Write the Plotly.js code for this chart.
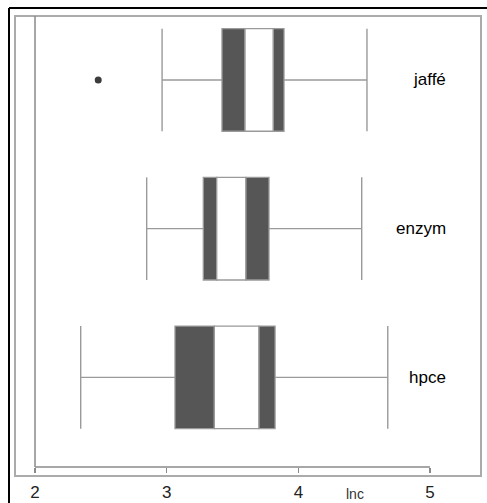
<!DOCTYPE html>
<html>
<head>
<meta charset="utf-8">
<script src="https://cdn.plot.ly/plotly-3.0.1.min.js"></script>
<style>html,body{margin:0;padding:0;background:#fff;}#chart{width:487px;height:503px;}</style>
</head>
<body>
<div id="chart"></div>
<script>
// Data
const categories = ['jaffé', 'enzym', 'hpce'];
const catPos = [3, 2, 1];
const lowerWhisker = [2.965, 2.848, 2.347];
const q1 = [3.42, 3.278, 3.063];
const ciLow = [3.595, 3.38, 3.362];
const ciHigh = [3.81, 3.602, 3.701];
const q3 = [3.891, 3.777, 3.823];
const upperWhisker = [4.521, 4.481, 4.679];
const outlierX = [2.48];
const outlierCat = ['jaffé'];
const tickVals = [2, 3, 4, 5];
const tickText = ['2', '3', '4', '5'];
const xTitle = 'lnc';

const BOXW = 0.69;
const darkFill = '#565656';
const edge = '#9a9a9a';
const posOf = c => catPos[categories.indexOf(c)];

const traces = [];
// whiskers
const wx = [], wy = [];
const cx = [], cy = [];
categories.forEach((c, i) => {
  const y = catPos[i];
  wx.push(lowerWhisker[i], q1[i], null, q3[i], upperWhisker[i], null);
  wy.push(y, y, null, y, y, null);
  cx.push(lowerWhisker[i], lowerWhisker[i], null, upperWhisker[i], upperWhisker[i], null);
  cy.push(y - BOXW / 2, y + BOXW / 2, null, y - BOXW / 2, y + BOXW / 2, null);
});
traces.push({type: 'scatter', mode: 'lines', x: wx, y: wy, line: {color: edge, width: 1.4}, hoverinfo: 'skip', showlegend: false});
traces.push({type: 'scatter', mode: 'lines', x: cx, y: cy, line: {color: edge, width: 1.4}, hoverinfo: 'skip', showlegend: false});

// box segments
const seg = (lo, hi, fill) => ({
  type: 'bar', orientation: 'h', y: catPos,
  base: lo, x: lo.map((v, i) => hi[i] - v), width: BOXW,
  marker: {color: fill, line: {color: edge, width: 1.3}},
  showlegend: false, hoverinfo: 'skip'
});
traces.push(seg(q1, ciLow, darkFill));
traces.push(seg(ciLow, ciHigh, '#ffffff'));
traces.push(seg(ciHigh, q3, darkFill));

// outliers
traces.push({type: 'scatter', mode: 'markers', x: outlierX, y: outlierCat.map(posOf),
  marker: {color: '#3c3c3c', size: 7}, showlegend: false, hoverinfo: 'skip'});

// plot geometry (pixels)
const W = 487, H = 503;
const mL = 15, mR = 6, mT = 16, mB = 36;
const pw = W - mL - mR, ph = H - mT - mB;
const px2paperX = p => (p - mL) / pw;
const px2paperY = p => (H - mB - p) / ph;

const annotations = categories.map((c, i) => ({
  x: 5.137, y: catPos[i], xref: 'x', yref: 'y', text: c, showarrow: false,
  xanchor: 'right', yanchor: 'middle',
  font: {family: 'Liberation Sans, Arial, sans-serif', size: 17, color: '#000'}
}));
annotations.push({x: px2paperX(355), y: px2paperY(503), xref: 'paper', yref: 'paper',
  text: xTitle, showarrow: false, xanchor: 'center', yanchor: 'bottom', borderpad: 0,
  font: {family: 'Liberation Sans, Arial, sans-serif', size: 14, color: '#333'}});

const shapes = [
  // inner grey frame
  {type: 'rect', xref: 'paper', yref: 'paper', x0: 0, x1: 1, y0: px2paperY(476), y1: 1,
   line: {color: '#ababab', width: 2}, layer: 'below'},
  // outer black frame (top and left)
  {type: 'line', xref: 'paper', yref: 'paper', x0: px2paperX(9), x1: px2paperX(490), y0: px2paperY(8), y1: px2paperY(8),
   line: {color: '#000', width: 2}},
  {type: 'line', xref: 'paper', yref: 'paper', x0: px2paperX(9), x1: px2paperX(9), y0: px2paperY(8), y1: px2paperY(510),
   line: {color: '#000', width: 2}},
  // axis lines
  {type: 'line', xref: 'x', yref: 'paper', x0: tickVals[0], x1: tickVals[tickVals.length - 1], y0: 0, y1: 0,
   line: {color: '#8a8a8a', width: 1.5}},
  {type: 'line', xref: 'x', yref: 'paper', x0: tickVals[0], x1: tickVals[0], y0: 0, y1: 1,
   line: {color: '#8a8a8a', width: 1.5}}
];

const layout = {
  width: W, height: H,
  margin: {l: mL, r: mR, t: mT, b: mB, pad: 0},
  paper_bgcolor: '#fff', plot_bgcolor: '#fff',
  barmode: 'overlay', bargap: 0,
  showlegend: false,
  xaxis: {range: [1.848, 5.387], tickvals: tickVals, ticktext: tickText,
    ticks: 'outside', ticklen: 5, tickwidth: 1.5, tickcolor: '#8a8a8a',
    showgrid: false, zeroline: false, showline: false, ticklabelstandoff: 5,
    tickfont: {family: 'Liberation Sans, Arial, sans-serif', size: 17, color: '#222'}},
  yaxis: {range: [0.3975, 3.43], showgrid: false, zeroline: false, showline: false,
    showticklabels: false, ticks: ''},
  shapes: shapes,
  annotations: annotations
};

Plotly.newPlot('chart', traces, layout, {staticPlot: true, displayModeBar: false});
</script>
</body>
</html>
